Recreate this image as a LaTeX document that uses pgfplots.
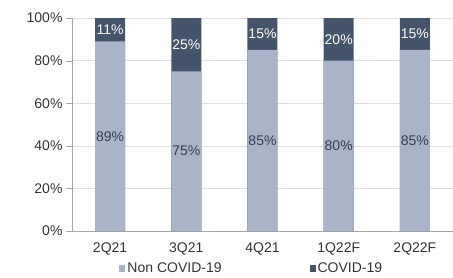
\documentclass[border=0pt]{standalone}
\usepackage{fontspec}
\setmainfont{Liberation Sans}
\usepackage{pgfplots}
\pgfplotsset{compat=1.18}
\definecolor{noncov}{HTML}{A9B4C8}
\definecolor{cov}{HTML}{44546A}
\definecolor{labdark}{HTML}{333F50}
\definecolor{txt}{HTML}{333333}
\begin{document}
\begin{tikzpicture}[font=\fontsize{14}{16}\selectfont]
\path[use as bounding box] (-72pt,-46pt) rectangle (381pt,231pt);
\begin{axis}[
  at={(0,0)}, anchor=south west,
  width=381pt, height=213pt, scale only axis,
  xmin=-0.5, xmax=4.5, ymin=0, ymax=100,
  xtick={0,1,2,3,4},
  xticklabels={2Q21,3Q21,4Q21,1Q22F,2Q22F},
  ytick={0,20,40,60,80,100},
  yticklabel={\pgfmathprintnumber{\tick}\%},
  /pgf/number format/assume math mode=true,
  ymajorgrids, grid style={gray!25},
  axis x line*=bottom, axis y line*=left,
  axis line style={gray!70},
  tick align=outside, major tick length=6pt,
  ytick style={gray!70}, xtick style={draw=none},
  tick label style={text=txt},
  xticklabel style={yshift=-2pt},
  legend style={at={(0.472,-0.13)}, anchor=north, draw=none, fill=none,
    legend columns=2, text=txt,
    /tikz/every even column/.append style={column sep=86pt}},
  legend image code/.code={\fill[#1,draw=none] (6pt,-3.3pt) rectangle (12pt,3.3pt);},
]
\addplot[forget plot, ybar, bar width=30pt, bar shift=0pt, fill=cov, draw=none]
  coordinates {(0,100) (1,100) (2,100) (3,100) (4,100)};
\addplot[forget plot, ybar, bar width=30pt, bar shift=0pt, fill=noncov, draw=none]
  coordinates {(0,89) (1,75) (2,85) (3,80) (4,85)};
\addplot[forget plot, draw=none, mark=none, point meta=explicit,
  nodes near coords={\pgfmathprintnumber{\pgfplotspointmeta}\%},
  nodes near coords align={center},
  every node near coord/.append style={text=labdark}]
  table[meta=v] {
x y v
0 44.5 89
1 37.5 75
2 42.5 85
3 40 80
4 42.5 85
};
\addplot[forget plot, draw=none, mark=none, point meta=explicit,
  nodes near coords={\pgfmathprintnumber{\pgfplotspointmeta}\%},
  nodes near coords align={center},
  every node near coord/.append style={text=white}]
  table[meta=v] {
x y v
0 94.5 11
1 87.5 25
2 92.5 15
3 90 20
4 92.5 15
};
\addlegendimage{fill=noncov}
\addlegendentry{Non COVID-19}
\addlegendimage{fill=cov}
\addlegendentry{COVID-19}
\end{axis}
\end{tikzpicture}
\end{document}
